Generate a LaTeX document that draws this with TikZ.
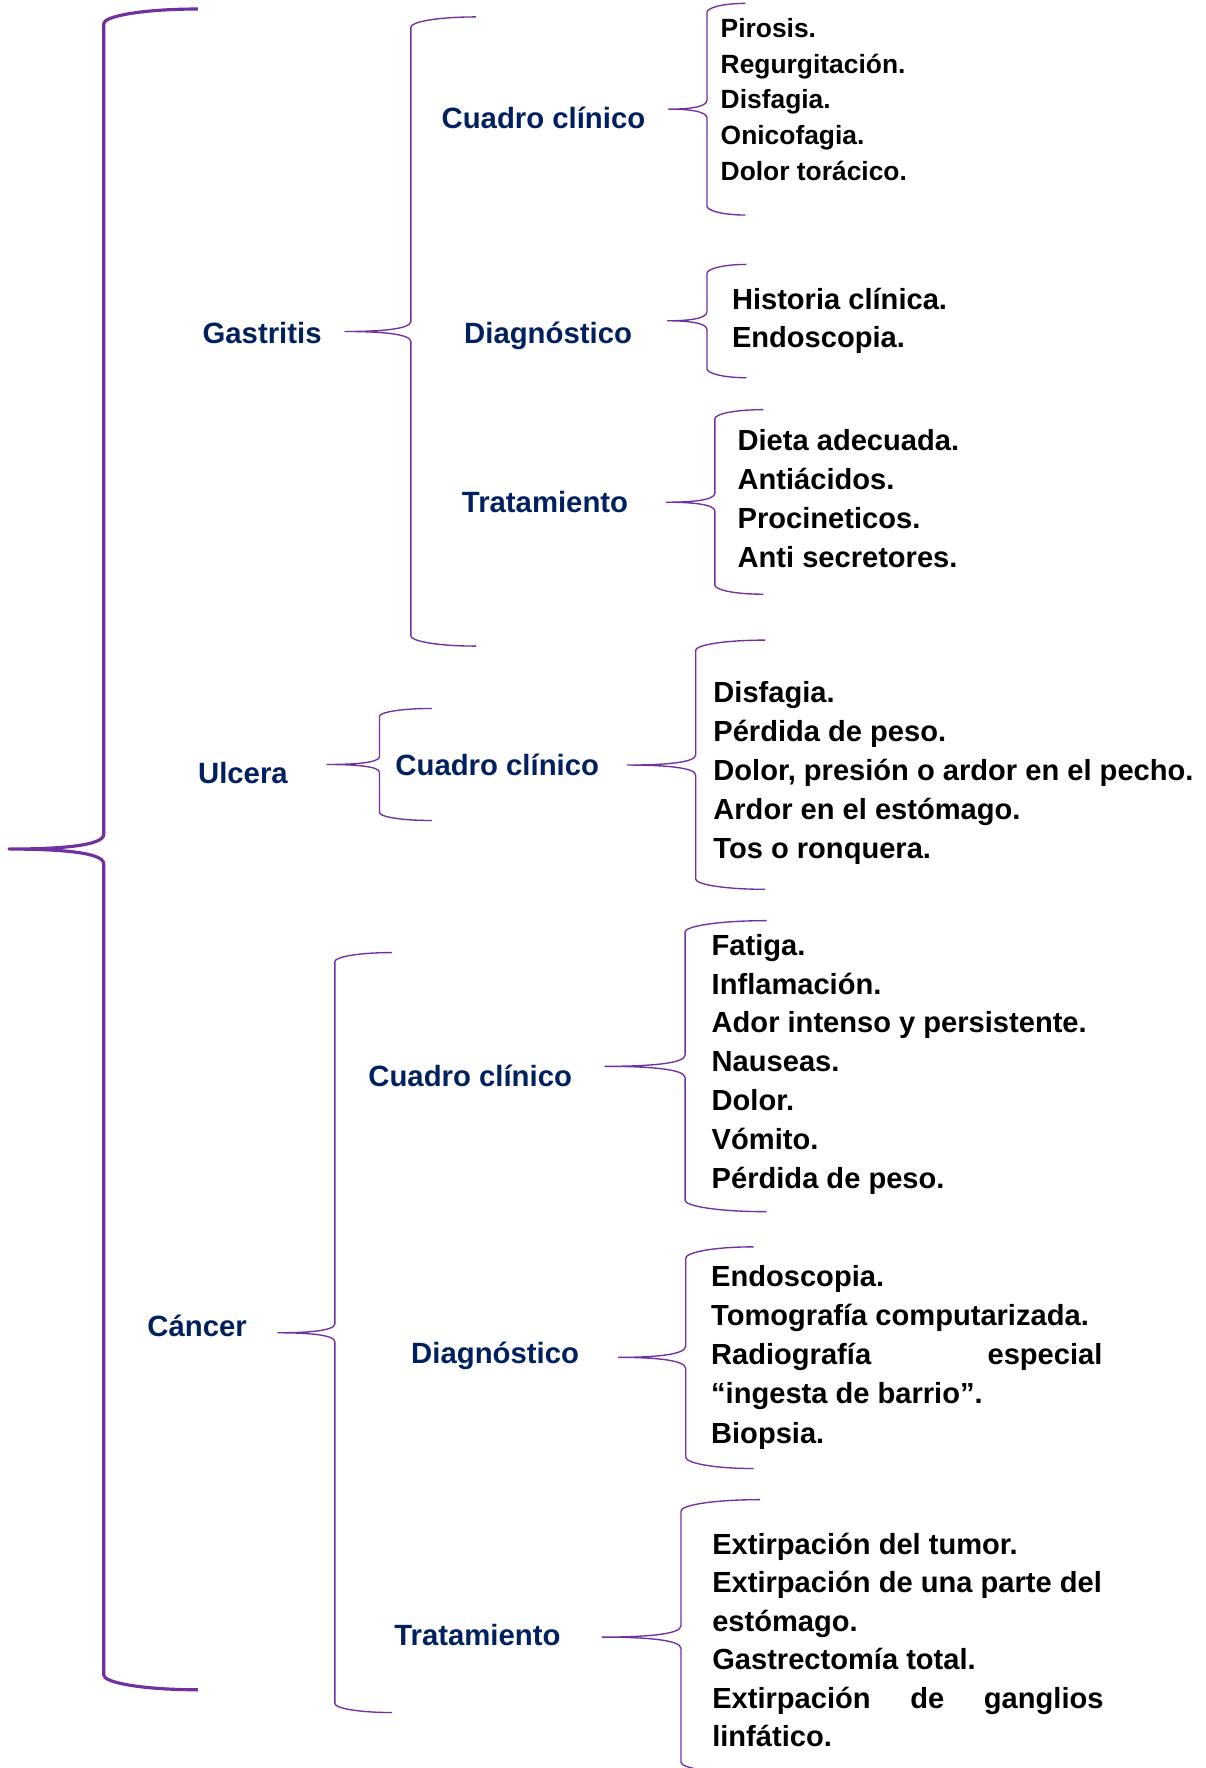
\documentclass[tikz,border=0pt]{standalone}
\usepackage{fontspec}
\setmainfont{Liberation Sans}
\definecolor{navy}{HTML}{002060}
\definecolor{brpurple}{HTML}{7030A0}
% #2 tip x, #3 top y, #4 bottom y, #5 vertical x, #6 cusp x, #7 cusp y, #8 corner size
\newcommand{\curlybr}[8][]{%
  \draw[brace,#1] (#2,#3) .. controls ({#2-0.6*(#2-#5)},#3) and (#5,{#3+0.5*#8}) .. (#5,{#3+#8})
   -- (#5,{#7-#8}) .. controls (#5,{#7-0.2*#8}) and ({#6+0.5*(#5-#6)},#7) .. (#6,#7)
   .. controls ({#6+0.5*(#5-#6)},#7) and (#5,{#7+0.2*#8}) .. (#5,{#7+#8})
   -- (#5,{#4-#8}) .. controls (#5,{#4-0.5*#8}) and ({#2-0.6*(#2-#5)},#4) .. (#2,#4);}
\newcommand{\natsp}{\spaceskip=0pt\xspaceskip=0pt\relax}
\tikzset{
  brace/.style={draw=brpurple, line width=1.2pt, line join=round},
  bigbrace/.style={line width=2.8pt},
  lab/.style={font=\fontsize{26}{30}\selectfont\bfseries, text=navy, anchor=base west, inner sep=0pt},
  items/.style={font=\bfseries, text=black, anchor=base west, inner sep=0pt, align=left, text width=460pt}
}
\begin{document}
\begin{tikzpicture}[x=1pt,y=-1pt]
\useasboundingbox[fill=white] (0,0) rectangle (1069,1568);

% braces
\curlybr[bigbrace]{175.5}{8}{1498.6}{92}{8}{753}{13}
\curlybr{422}{15}{573}{364.4}{306}{294}{9}
\curlybr{661}{3}{190.7}{627}{593}{96.8}{8}
\curlybr{662}{234.5}{335}{627}{592}{284.5}{8}
\curlybr{677}{363.3}{527}{634}{591}{445.4}{8}
\curlybr{383}{628.3}{727.7}{336.6}{290}{678}{7}
\curlybr{678.6}{567.7}{788.7}{617}{556.4}{678.5}{9}
\curlybr{347.7}{844.8}{1518.8}{297}{246.4}{1182}{8}
\curlybr{680}{816.5}{1074.6}{607.6}{536.5}{945.7}{10}
\curlybr{668.3}{1105.8}{1302.4}{608.2}{548.5}{1203.8}{10}
\curlybr{673.8}{1330}{1573}{604}{534}{1451.9}{10}

% labels
\node[lab] (gas) at (179.5,304.3) {Gastritis};
\node[lab] (gcc) at (391.5,113.7) {Cuadro clínico};
\node[lab] (gdx) at (411.5,305) {Diagnóstico};
\node[lab] (gtx) at (409.5,454.7) {Tratamiento};
\node[lab] (ulc) at (175.5,694.8) {Ulcera};
\node[lab] (ucc) at (350.5,687.7) {Cuadro clínico};
\node[lab] (can) at (130.5,1185.1) {Cáncer};
\node[lab] (ccc) at (326.5,963.7) {Cuadro clínico};
\node[lab] (cdx) at (364.5,1209.2) {Diagnóstico};
\node[lab] (ctx) at (349.5,1459.4) {Tratamiento};

% item lists
\node[items, font=\fontsize{23.4}{31.7}\selectfont\bfseries] (gci) at (639,33.1)
  {\natsp Pirosis.\\Regurgitación.\\Disfagia.\\Onicofagia.\\Dolor torácico.};
\node[items, font=\fontsize{25.8}{34.2}\selectfont\bfseries] (gdi) at (649,274.2)
  {\natsp Historia clínica.\\Endoscopia.};
\node[items, font=\fontsize{25.8}{34.7}\selectfont\bfseries] (gti) at (654,399.4)
  {\natsp Dieta adecuada.\\Antiácidos.\\Procineticos.\\Anti secretores.};
\node[items, font=\fontsize{25.8}{34.5}\selectfont\bfseries] (uci) at (632.5,623)
  {\natsp Disfagia.\\Pérdida de peso.\\Dolor, presión o ardor en el pecho.\\Ardor en el estómago.\\Tos o ronquera.};
\node[items, font=\fontsize{25.8}{34.5}\selectfont\bfseries] (cci) at (631,847.1)
  {\natsp Fatiga.\\Inflamación.\\Ador intenso y persistente.\\Nauseas.\\Dolor.\\Vómito.\\Pérdida de peso.};
\node[items, font=\fontsize{25.8}{34.7}\selectfont\bfseries] (cdi) at (630.5,1141)
  {\natsp Endoscopia.\\Tomografía computarizada.\\\makebox[347pt][l]{Radiografía\hfill especial}\\“ingesta de barrio”.\\Biopsia.};
\node[items, font=\fontsize{25.8}{34.1}\selectfont\bfseries] (cti) at (631.5,1378.6)
  {\natsp Extirpación del tumor.\\Extirpación de una parte del\\estómago.\\Gastrectomía total.\\\makebox[347pt][l]{Extirpación\hfill de\hfill ganglios}\\linfático.};
\end{tikzpicture}
\end{document}
